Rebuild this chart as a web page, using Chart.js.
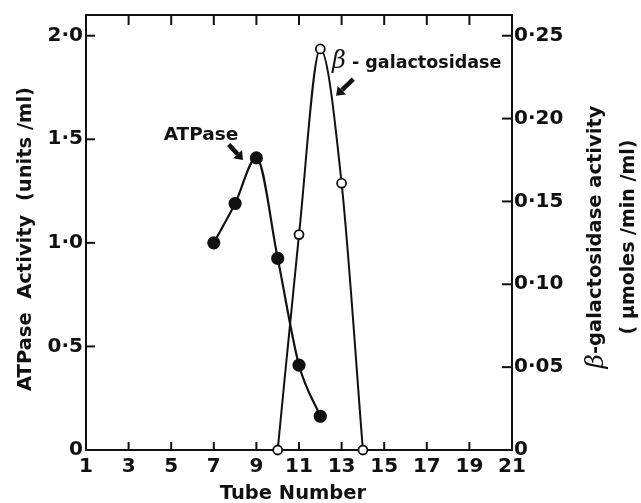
<!DOCTYPE html>
<html>
<head>
<meta charset="utf-8">
<script src="https://cdn.jsdelivr.net/npm/chart.js@4.4.0/dist/chart.umd.min.js"></script>
<style>
body { margin: 0; background: #fff; }
#wrap { width: 641px; height: 503px; }
</style>
</head>
<body>
<div id="wrap"><canvas id="myChart" width="641" height="503"></canvas></div>
<script>
// tube numbers and activities
var atpTubes = [7, 8, 9, 10, 11, 12];
var atpase = [1.0, 1.19, 1.41, 0.925, 0.41, 0.163];
var galTubes = [10, 11, 12, 13, 14];
var galactosidase = [0, 0.13, 0.242, 0.161, 0];

var xTicks = [1, 3, 5, 7, 9, 11, 13, 15, 17, 19, 21];
var leftTicks = [0, 0.5, 1.0, 1.5, 2.0];
var rightTicks = [0, 0.05, 0.10, 0.15, 0.20, 0.25];

var ink = '#111';
var family = "'DejaVu Sans', sans-serif";

function fmt(v, d) {
	if (v == 0) return '0';
	return v.toFixed(d).replace('.', '\u00b7');
}

// draws a row of text pieces centred on (x, y), rotated by rot
function drawParts(c, parts, x, y, rot) {
	c.save();
	c.translate(x, y);
	c.rotate(rot);
	c.textBaseline = 'middle';
	c.textAlign = 'left';
	var w = 0;
	parts.forEach(function(p) { c.font = p.f; w += c.measureText(p.t).width; });
	var px = -w / 2;
	parts.forEach(function(p) {
		c.font = p.f;
		c.fillText(p.t, px, p.dy || 0);
		px += c.measureText(p.t).width;
	});
	c.restore();
}

function arrow(c, x1, y1, x2, y2) {
	var ang = Math.atan2(y2 - y1, x2 - x1);
	var hl = 8, hw = 6;
	var bx = x2 - hl * Math.cos(ang), by = y2 - hl * Math.sin(ang);
	c.lineWidth = 4.5;
	c.beginPath(); c.moveTo(x1, y1); c.lineTo(bx, by); c.stroke();
	c.beginPath();
	c.moveTo(x2, y2);
	c.lineTo(bx + hw * Math.sin(ang), by - hw * Math.cos(ang));
	c.lineTo(bx - hw * Math.sin(ang), by + hw * Math.cos(ang));
	c.closePath();
	c.fill();
}

var framePlugin = {
	id: 'frame',
	afterDraw: function(chart) {
		var c = chart.ctx, a = chart.chartArea;
		var sx = chart.scales.x, sy = chart.scales.y;
		c.save();
		c.strokeStyle = ink;
		c.fillStyle = ink;
		c.lineWidth = 2;
		function seg(x1, y1, x2, y2) { c.beginPath(); c.moveTo(x1, y1); c.lineTo(x2, y2); c.stroke(); }
		seg(a.left - 1, a.top, a.right + 1, a.top);
		xTicks.slice(1, -1).forEach(function(v) {
			var px = sx.getPixelForValue(v);
			seg(px, a.bottom, px, a.bottom - 8);
			seg(px, a.top, px, a.top + 10);
		});
		leftTicks.slice(1).forEach(function(v) {
			var py = sy.getPixelForValue(v);
			seg(a.left, py, a.left + 9, py);
		});
		rightTicks.slice(1).forEach(function(v) {
			var py = chart.scales.y2.getPixelForValue(v);
			seg(a.right - 10, py, a.right, py);
		});

		var bold = 'bold 19.5px ' + family;
		var beta = 'italic 25px "DejaVu Serif", serif';
		drawParts(c, [{t: 'ATPase  Activity  (units /ml)', f: bold}], 26, 239, -Math.PI / 2);
		drawParts(c, [{t: '\u03b2', f: beta}, {t: '-galactosidase activity', f: 'bold 19.5px ' + family}], 596, 237, -Math.PI / 2);
		drawParts(c, [{t: '( \u00b5moles /min /ml)', f: 'bold 19px ' + family}], 629, 237, -Math.PI / 2);
		drawParts(c, [{t: 'Tube Number', f: 'bold 19.5px ' + family}], 293, 494, 0);

		// curve labels with arrows
		drawParts(c, [{t: 'ATPase', f: 'bold 18.5px ' + family}], sx.getPixelForValue(6.4), sy.getPixelForValue(1.52), 0);
		arrow(c, sx.getPixelForValue(7.7), sy.getPixelForValue(1.475), sx.getPixelForValue(8.37), sy.getPixelForValue(1.40));
		c.save();
		c.textAlign = 'left';
		c.textBaseline = 'middle';
		var lx = sx.getPixelForValue(12.55), ly = sy.getPixelForValue(1.873);
		c.font = 'italic 24px "DejaVu Serif", serif';
		c.fillText('\u03b2', lx, ly);
		var bw = c.measureText('\u03b2').width;
		c.font = 'bold 17.5px ' + family;
		c.fillText(' - galactosidase', lx + bw, ly + 1);
		c.restore();
		arrow(c, sx.getPixelForValue(13.55), sy.getPixelForValue(1.79), sx.getPixelForValue(12.74), sy.getPixelForValue(1.71));
		c.restore();
	}
};

var ctx = document.getElementById('myChart');
var tickFont = {family: family, size: 20, weight: 'bold'};
var myChart = new Chart(ctx, {
	type: 'line',
	data: {
		datasets: [{
			label: 'ATPase',
			data: atpTubes.map(function(t, i) { return {x: t, y: atpase[i]}; }),
			yAxisID: 'y',
			borderColor: ink,
			borderWidth: 2.2,
			pointRadius: 5.5,
			pointBackgroundColor: ink,
			pointBorderColor: ink,
			cubicInterpolationMode: 'monotone',
			clip: false
		}, {
			label: '\u03b2-galactosidase',
			data: galTubes.map(function(t, i) { return {x: t, y: galactosidase[i]}; }),
			yAxisID: 'y2',
			borderColor: ink,
			borderWidth: 2,
			pointRadius: 4.5,
			pointBackgroundColor: '#fff',
			pointBorderColor: ink,
			pointBorderWidth: 1.8,
			cubicInterpolationMode: 'monotone',
			clip: false
		}]
	},
	options: {
		responsive: false,
		animation: false,
		layout: {padding: {top: 13}},
		plugins: {legend: {display: false}, tooltip: {enabled: false}},
		scales: {
			x: {
				type: 'linear', min: 1, max: 21,
				afterBuildTicks: function(s) { s.ticks = xTicks.map(function(v) { return {value: v}; }); },
				afterFit: function(s) { s.height = 53; },
				grid: {display: false, drawTicks: false},
				border: {color: ink, width: 2},
				ticks: {padding: 5, color: ink, font: tickFont, autoSkip: false, maxRotation: 0}
			},
			y: {
				position: 'left', min: 0, max: 2.1,
				afterBuildTicks: function(s) { s.ticks = leftTicks.map(function(v) { return {value: v}; }); },
				afterFit: function(s) { s.width = 86; },
				grid: {display: false, drawTicks: false},
				border: {color: ink, width: 2},
				ticks: {padding: 3, color: ink, font: tickFont, callback: function(v) { return fmt(v, 1); }}
			},
			y2: {
				position: 'right', min: 0, max: 0.2625,
				afterBuildTicks: function(s) { s.ticks = rightTicks.map(function(v) { return {value: v}; }); },
				afterFit: function(s) { s.width = 129; },
				grid: {display: false, drawTicks: false},
				border: {color: ink, width: 2},
				ticks: {padding: 2, color: ink, font: tickFont, callback: function(v) { return fmt(v, 2); }}
			}
		}
	},
	plugins: [framePlugin]
});
</script>
</body>
</html>
